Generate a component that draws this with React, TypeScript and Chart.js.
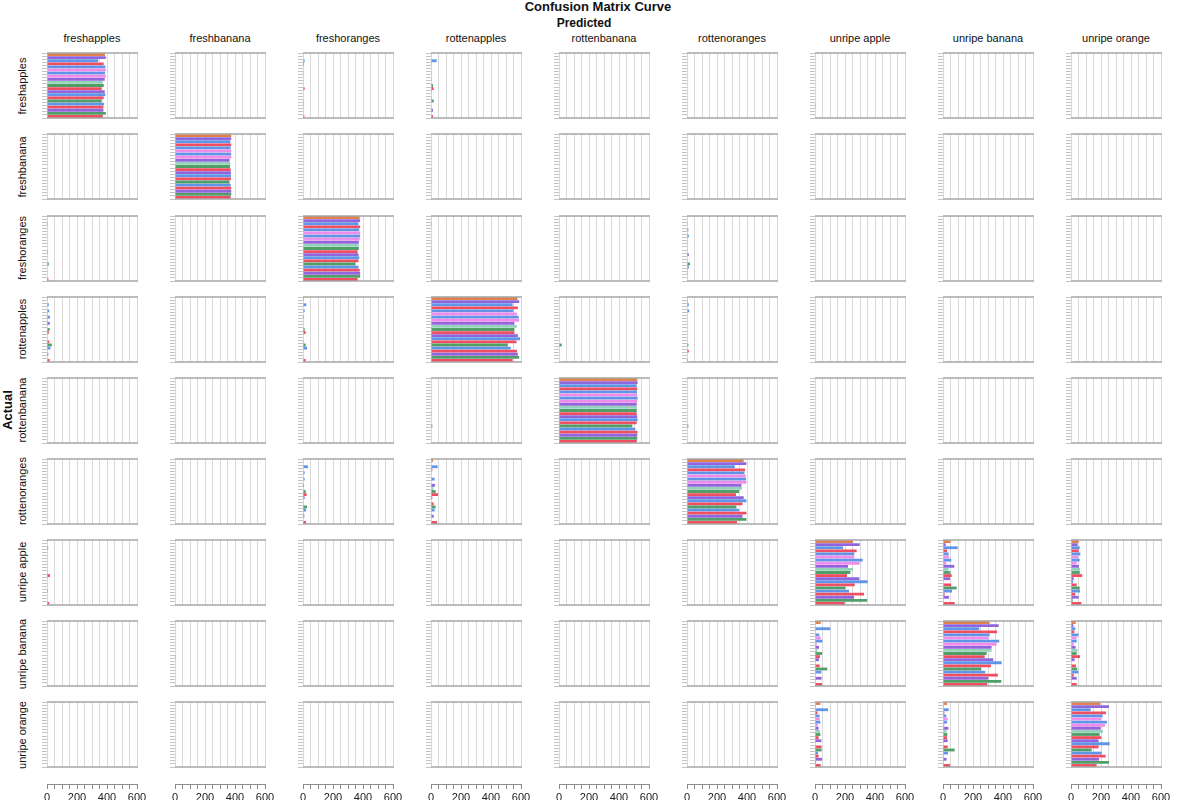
import React, { useEffect, useRef } from "react";
import { Chart, registerables } from "chart.js";
Chart.register(...registerables);

const classes = ["freshapples", "freshbanana", "freshoranges", "rottenapples", "rottenbanana", "rottenoranges", "unripe apple", "unripe banana", "unripe orange"];
const runLabels = ["1", "2", "3", "4", "5", "6", "7", "8", "9", "10", "11", "12", "13", "14", "15", "16", "17", "18", "19", "20", "21"];
const barColors = ["#DE763E", "#8858D8", "#528CE6", "#EE4052", "#528CE6", "#EE84E8", "#528CE6", "#EE84E8", "#8858D8", "#8CCEB4", "#42965C", "#EE4052", "#8858D8", "#528CE6", "#EE4052", "#42965C", "#528CE6", "#EE4052", "#8858D8", "#42965C", "#EE4052"];
const xTickLabels = [0, 200, 400, 600];

const none = [0, 0, 0, 0, 0, 0, 0, 0, 0, 0, 0, 0, 0, 0, 0, 0, 0, 0, 0, 0, 0];
const cell_0_0 = [387, 392, 341, 378, 389, 392, 387, 392, 385, 372, 378, 365, 385, 389, 378, 365, 381, 376, 376, 392, 372];
const cell_0_1 = [0, 0, 2, 0, 0, 0, 0, 0, 0, 0, 0, 2, 0, 0, 0, 0, 2, 0, 0, 0, 0];
const cell_0_2 = [0, 0, 11, 7, 0, 0, 2, 0, 0, 4, 0, 11, 0, 0, 0, 2, 2, 4, 0, 0, 9];
const cell_0_3 = [4, 0, 38, 2, 0, 0, 2, 0, 2, 0, 13, 18, 2, 0, 2, 18, 0, 0, 13, 0, 13];
const cell_0_6 = [0, 0, 0, 0, 0, 0, 0, 0, 0, 0, 0, 0, 0, 0, 0, 0, 2, 2, 0, 0, 0];
const cell_1_1 = [375, 375, 369, 375, 371, 375, 375, 375, 364, 369, 367, 371, 373, 373, 373, 364, 371, 375, 375, 375, 371];
const cell_1_3 = [0, 0, 0, 0, 3, 0, 0, 0, 0, 0, 0, 2, 0, 0, 0, 2, 0, 0, 0, 0, 0];
const cell_2_0 = [0, 0, 6, 0, 0, 0, 0, 0, 0, 0, 0, 6, 0, 0, 0, 12, 0, 0, 0, 0, 9];
const cell_2_2 = [378, 381, 370, 381, 375, 381, 381, 378, 372, 372, 372, 364, 370, 375, 370, 349, 370, 378, 381, 381, 364];
const cell_2_3 = [0, 0, 6, 0, 0, 0, 0, 0, 2, 0, 2, 3, 0, 0, 3, 2, 0, 0, 0, 0, 3];
const cell_2_5 = [3, 0, 2, 0, 9, 2, 12, 3, 2, 0, 3, 3, 12, 0, 3, 20, 12, 2, 2, 0, 3];
const cell_3_0 = [5, 0, 12, 0, 15, 2, 20, 2, 18, 0, 18, 12, 0, 0, 15, 32, 23, 0, 9, 0, 18];
const cell_3_2 = [7, 0, 22, 0, 11, 0, 7, 0, 4, 0, 11, 18, 0, 0, 2, 18, 27, 0, 0, 0, 18];
const cell_3_3 = [576, 588, 544, 579, 550, 573, 585, 588, 556, 573, 556, 556, 579, 594, 570, 512, 532, 573, 579, 588, 544];
const cell_3_4 = [0, 0, 0, 0, 0, 0, 0, 0, 0, 0, 0, 0, 0, 0, 0, 18, 0, 0, 0, 0, 0];
const cell_3_5 = [2, 2, 12, 0, 15, 0, 3, 0, 3, 0, 3, 0, 0, 0, 0, 9, 3, 12, 0, 0, 6];
const cell_4_1 = [0, 0, 0, 0, 0, 0, 0, 0, 0, 0, 0, 0, 0, 0, 0, 2, 0, 0, 0, 0, 0];
const cell_4_3 = [0, 0, 0, 0, 0, 0, 0, 0, 0, 0, 0, 2, 0, 0, 0, 9, 0, 0, 0, 0, 0];
const cell_4_4 = [522, 524, 518, 522, 520, 520, 524, 522, 518, 519, 519, 518, 522, 524, 518, 489, 509, 524, 522, 522, 519];
const cell_4_5 = [0, 0, 0, 0, 0, 0, 0, 0, 0, 0, 0, 0, 0, 0, 0, 9, 0, 0, 0, 0, 0];
const cell_4_7 = [0, 0, 0, 0, 0, 0, 0, 0, 0, 0, 0, 0, 0, 0, 0, 3, 0, 0, 0, 0, 0];
const cell_5_2 = [4, 0, 33, 0, 11, 2, 11, 0, 7, 0, 18, 24, 11, 0, 4, 27, 20, 2, 9, 0, 20];
const cell_5_3 = [13, 0, 44, 9, 4, 0, 24, 0, 27, 16, 31, 47, 9, 0, 18, 31, 24, 0, 18, 0, 40];
const cell_5_5 = [378, 396, 319, 387, 383, 392, 394, 396, 363, 367, 347, 327, 378, 396, 370, 330, 347, 396, 370, 396, 334];
const cell_6_0 = [5, 0, 8, 3, 0, 2, 0, 2, 0, 0, 4, 20, 0, 0, 3, 0, 7, 0, 0, 0, 15];
const cell_6_6 = [253, 298, 187, 278, 262, 262, 318, 298, 220, 253, 236, 213, 296, 351, 265, 202, 227, 327, 260, 347, 198];
const cell_6_7 = [51, 18, 98, 27, 38, 40, 55, 22, 75, 38, 49, 58, 47, 0, 55, 91, 60, 11, 40, 4, 78];
const cell_6_8 = [51, 44, 58, 51, 62, 47, 58, 38, 53, 60, 58, 75, 18, 13, 38, 58, 60, 29, 51, 11, 69];
const cell_7_1 = [0, 0, 0, 0, 0, 0, 0, 0, 0, 0, 0, 5, 3, 0, 0, 0, 0, 0, 0, 0, 0];
const cell_7_6 = [38, 4, 102, 4, 29, 38, 49, 11, 27, 16, 47, 33, 27, 0, 31, 82, 42, 4, 44, 4, 47];
const cell_7_7 = [311, 371, 242, 360, 311, 304, 375, 357, 324, 324, 291, 278, 335, 391, 320, 255, 282, 366, 302, 389, 295];
const cell_7_8 = [31, 16, 29, 22, 49, 38, 38, 18, 31, 44, 38, 60, 24, 0, 33, 42, 49, 18, 38, 4, 38];
const cell_8_6 = [36, 2, 87, 16, 31, 31, 36, 18, 24, 33, 36, 24, 42, 0, 44, 44, 20, 24, 47, 7, 38];
const cell_8_7 = [27, 2, 38, 9, 22, 31, 27, 9, 36, 24, 29, 27, 31, 0, 31, 78, 33, 2, 24, 2, 47];
const cell_8_8 = [196, 253, 131, 233, 211, 200, 240, 227, 198, 213, 191, 202, 184, 258, 184, 138, 204, 231, 187, 253, 171];

const matrix = [
  [cell_0_0, cell_0_1, cell_0_2, cell_0_3, none, none, cell_0_6, none, none],
  [none, cell_1_1, none, cell_1_3, none, none, none, none, none],
  [cell_2_0, none, cell_2_2, cell_2_3, none, cell_2_5, none, none, none],
  [cell_3_0, none, cell_3_2, cell_3_3, cell_3_4, cell_3_5, none, none, none],
  [none, cell_4_1, none, cell_4_3, cell_4_4, cell_4_5, none, cell_4_7, none],
  [none, none, cell_5_2, cell_5_3, none, cell_5_5, none, none, none],
  [cell_6_0, none, none, none, none, none, cell_6_6, cell_6_7, cell_6_8],
  [none, cell_7_1, none, none, none, none, cell_7_6, cell_7_7, cell_7_8],
  [none, none, none, none, none, none, cell_8_6, cell_8_7, cell_8_8],
];

const FONT = '"Liberation Sans", Arial, Helvetica, sans-serif';
Chart.defaults.font.family = FONT;

const COL_LEFT = 47;
const COL_STEP = 128;
const ROW_TOP = 53.3;
const ROW_STEP = 81.1;
const PLOT_W = 90;
const PLOT_H = 65;

function rgba(hex: string, a: number) {
  const n = parseInt(hex.slice(1), 16);
  return `rgba(${(n >> 16) & 255},${(n >> 8) & 255},${n & 255},${a})`;
}

const framePlugin = {
  id: "frame",
  afterDatasetsDraw(chart: any) {
    const { ctx, chartArea } = chart;
    const { left, right, top, bottom } = chartArea;
    ctx.save();
    ctx.strokeStyle = "#a6a6a6";
    ctx.lineWidth = 1.6;
    ctx.beginPath();
    ctx.moveTo(left, top);
    ctx.lineTo(right + 1, top);
    ctx.moveTo(left, bottom);
    ctx.lineTo(right + 1, bottom);
    ctx.stroke();
    ctx.restore();
  },
};

function Cell({ values, left, top }: { values: number[]; left: number; top: number }) {
  const ref = useRef<HTMLCanvasElement>(null);
  useEffect(() => {
    const chart = new Chart(ref.current as HTMLCanvasElement, {
      type: "bar",
      data: {
        labels: runLabels,
        datasets: [
          {
            data: values,
            backgroundColor: barColors.map((c) => rgba(c, 0.92)),
            borderColor: barColors.map((c) => rgba(c, 0.45)),
            borderWidth: 0,
            barPercentage: 0.92,
            categoryPercentage: 1,
          },
        ],
      },
      options: {
        indexAxis: "y",
        animation: false,
        responsive: false,
        maintainAspectRatio: false,
        events: [],
        layout: { padding: { top: 2, bottom: 2, left: 0, right: 2 } },
        plugins: { legend: { display: false }, tooltip: { enabled: false }, title: { display: false } },
        scales: {
          x: {
            min: 0,
            max: 600,
            ticks: { display: false, stepSize: 50 },
            grid: { color: "#d9d9d9", drawTicks: false, lineWidth: 1 },
            border: { display: false },
            afterFit: (s: any) => {
              s.height = 0;
            },
          },
          y: {
            ticks: { display: false },
            grid: { drawOnChartArea: false, color: "#c4c4c4", tickLength: 5 },
            border: { display: false },
            afterFit: (s: any) => {
              s.width = 6;
            },
          },
        },
      } as any,
      plugins: [framePlugin],
    });
    return () => chart.destroy();
  }, [values]);
  const w = 6 + PLOT_W + 2;
  const h = 2 + PLOT_H + 2;
  return (
    <canvas
      ref={ref}
      width={w}
      height={h}
      style={{ position: "absolute", left: left - 6, top: top - 2, width: w, height: h }}
    />
  );
}

function XAxis({ left, top }: { left: number; top: number }) {
  const ref = useRef<HTMLCanvasElement>(null);
  useEffect(() => {
    const chart = new Chart(ref.current as HTMLCanvasElement, {
      type: "scatter",
      data: { datasets: [] },
      options: {
        animation: false,
        responsive: false,
        maintainAspectRatio: false,
        events: [],
        layout: { padding: { top: 2, bottom: 0, left: 15, right: 15 } },
        plugins: { legend: { display: false }, tooltip: { enabled: false } },
        scales: {
          x: {
            type: "linear",
            min: 0,
            max: 600,
            ticks: {
              stepSize: 50,
              autoSkip: false,
              maxRotation: 0,
              color: "#222",
              font: { size: 11, family: FONT },
              padding: 2,
              callback: (v: any) => (xTickLabels.includes(v) ? String(v) : ""),
            },
            grid: { drawOnChartArea: false, tickLength: 5, color: "#8a8a8a" },
            border: { display: true, color: "#8a8a8a" },
            afterFit: (s: any) => {
              s.height = 20;
            },
          },
          y: { display: false, min: 0, max: 1 },
        },
      } as any,
    });
    return () => chart.destroy();
  }, []);
  const w = PLOT_W + 30;
  const h = 24;
  return (
    <canvas
      ref={ref}
      width={w}
      height={h}
      style={{ position: "absolute", left: left - 15, top: top - 4, width: w, height: h }}
    />
  );
}

function Label({ x, y, text, size, bold, rotate }: { x: number; y: number; text: string; size: number; bold?: boolean; rotate?: boolean }) {
  return (
    <div
      style={{
        position: "absolute",
        left: x,
        top: y,
        transform: `translate(-50%, -50%)${rotate ? " rotate(-90deg)" : ""}`,
        fontFamily: FONT,
        fontSize: size,
        fontWeight: bold ? "bold" : "normal",
        color: "#111",
        whiteSpace: "nowrap",
        lineHeight: 1,
      }}
    >
      {text}
    </div>
  );
}

export default function App() {
  return (
    <div style={{ position: "absolute", left: 0, top: 0, width: 1200, height: 800, background: "#fff", overflow: "hidden" }}>
      <Label x={598} y={6} text="Confusion Matrix Curve" size={13} bold />
      <Label x={584} y={23} text="Predicted" size={12} bold />
      <Label x={7} y={410} text="Actual" size={13} bold rotate />
      {classes.map((c, i) => (
        <Label key={"col" + i} x={COL_LEFT + COL_STEP * i + PLOT_W / 2} y={38} text={c} size={11} />
      ))}
      {classes.map((c, i) => (
        <Label key={"row" + i} x={22} y={ROW_TOP + ROW_STEP * i + PLOT_H / 2} text={c} size={11} rotate />
      ))}
      {matrix.map((row, r) =>
        row.map((vals, c) => (
          <Cell key={r + "-" + c} values={vals} left={COL_LEFT + COL_STEP * c} top={ROW_TOP + ROW_STEP * r} />
        ))
      )}
      {classes.map((c, i) => (
        <XAxis key={"ax" + i} left={COL_LEFT + COL_STEP * i} top={784} />
      ))}
    </div>
  );
}
